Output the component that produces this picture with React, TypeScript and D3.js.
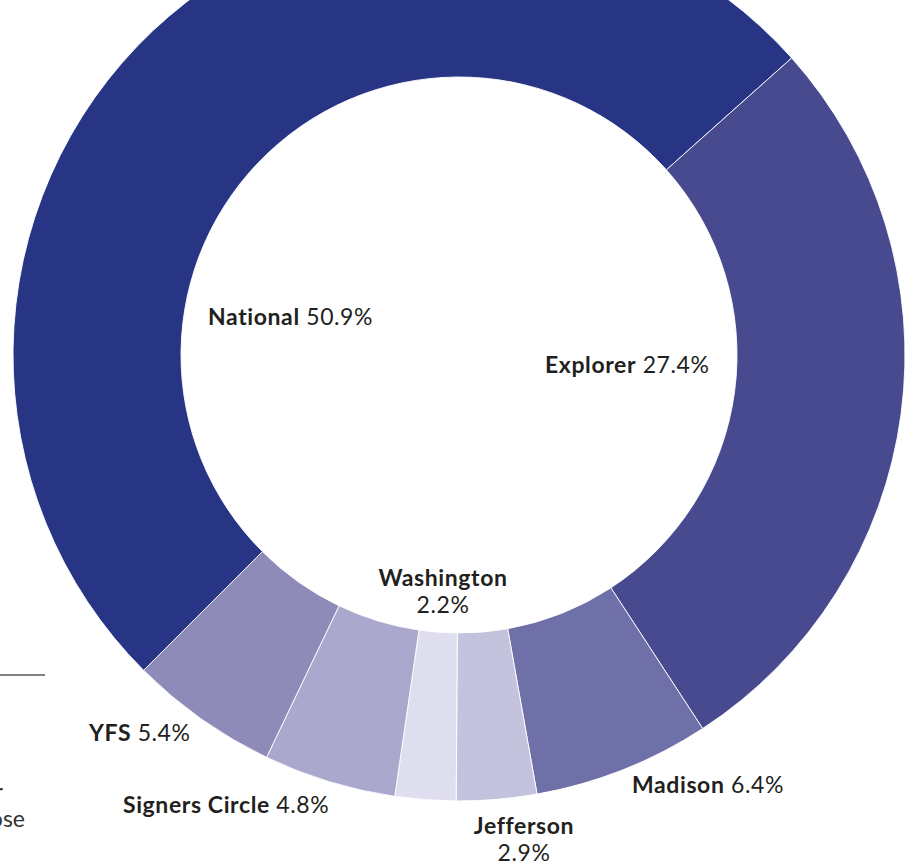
import * as d3 from "d3";
import { useEffect, useRef } from "react";

// membership share by program, clockwise from the lower left
const categories = ["National", "Explorer", "Madison", "Jefferson", "Washington", "Signers Circle", "YFS"];
const shares = [50.9, 27.4, 6.4, 2.9, 2.2, 4.8, 5.4];
const sliceColors = ["#283584", "#474a8f", "#7070a8", "#c3c3dd", "#dfdeee", "#aaa8cc", "#8f8bb9"];

// where each label sits, relative to the donut centre
const labelLayout = {
    "National": { dx: -251, dy: -30, anchor: "start", stacked: false },
    "Explorer": { dx: 86, dy: 18, anchor: "start", stacked: false },
    "Madison": { dx: 173, dy: 438, anchor: "start", stacked: false },
    "Jefferson": { dx: 65, dy: 479, anchor: "middle", stacked: true },
    "Washington": { dx: -16, dy: 231, anchor: "middle", stacked: true },
    "Signers Circle": { dx: -336, dy: 458, anchor: "start", stacked: false },
    "YFS": { dx: -370, dy: 386, anchor: "start", stacked: false },
};

const width = 909;
const height = 868;
const cx = 459;
const cy = 355;
const outerRadius = 446;
const innerRadius = 278;
const fontSize = 23;

function App() {
    const ref = useRef(null);

    useEffect(() => {
        const svg = d3.select(ref.current);
        svg.selectAll("*").remove();

        const data = categories.map((name, i) => ({ name, value: shares[i], color: sliceColors[i] }));

        const pie = d3.pie()
            .sort(null)
            .value((d) => d.value)
            .startAngle((-135 * Math.PI) / 180)
            .endAngle((225 * Math.PI) / 180);
        const arc = d3.arc().innerRadius(innerRadius).outerRadius(outerRadius);

        const g = svg.append("g").attr("transform", `translate(${cx}, ${cy})`);

        g.selectAll("path")
            .data(pie(data))
            .enter()
            .append("path")
            .attr("d", arc)
            .attr("fill", (d) => d.data.color)
            .attr("stroke", "#ffffff")
            .attr("stroke-width", 0.9);

        // labels: bold name, regular share
        const labels = g.selectAll("text.label")
            .data(data)
            .enter()
            .append("text")
            .attr("class", "label")
            .attr("x", (d) => labelLayout[d.name].dx)
            .attr("y", (d) => labelLayout[d.name].dy)
            .attr("text-anchor", (d) => labelLayout[d.name].anchor)
            .style("font-family", "Lato, sans-serif")
            .style("font-size", `${fontSize}px`)
            .style("letter-spacing", "0.6px")
            .attr("fill", "#231f20");

        labels.each(function (d) {
            const t = d3.select(this);
            const lay = labelLayout[d.name];
            t.append("tspan").style("font-weight", 700).text(d.name);
            if (lay.stacked) {
                t.append("tspan")
                    .attr("x", lay.dx)
                    .attr("dy", 27)
                    .style("font-weight", 400)
                    .text(`${d.value.toFixed(1)}%`);
            } else {
                t.append("tspan").style("font-weight", 400).text(` ${d.value.toFixed(1)}%`);
            }
        });

        // clipped remains of the neighbouring column
        svg.append("line")
            .attr("x1", 0)
            .attr("x2", 45)
            .attr("y1", 675)
            .attr("y2", 675)
            .attr("stroke", "#555555")
            .attr("stroke-width", 1.3);

        svg.append("text")
            .attr("x", 3)
            .attr("y", 800)
            .attr("text-anchor", "end")
            .style("font-family", "Lato, sans-serif")
            .style("font-size", `${fontSize}px`)
            .attr("fill", "#333333")
            .text("for");

        svg.append("text")
            .attr("x", 25)
            .attr("y", 827)
            .attr("text-anchor", "end")
            .style("font-family", "Lato, sans-serif")
            .style("font-size", `${fontSize}px`)
            .attr("fill", "#333333")
            .text("those");
    }, []);

    return (
        <svg
            ref={ref}
            width={width}
            height={height}
            style={{ position: "absolute", left: 0, top: 0, background: "#ffffff" }}
        />
    );
}

export default App;
